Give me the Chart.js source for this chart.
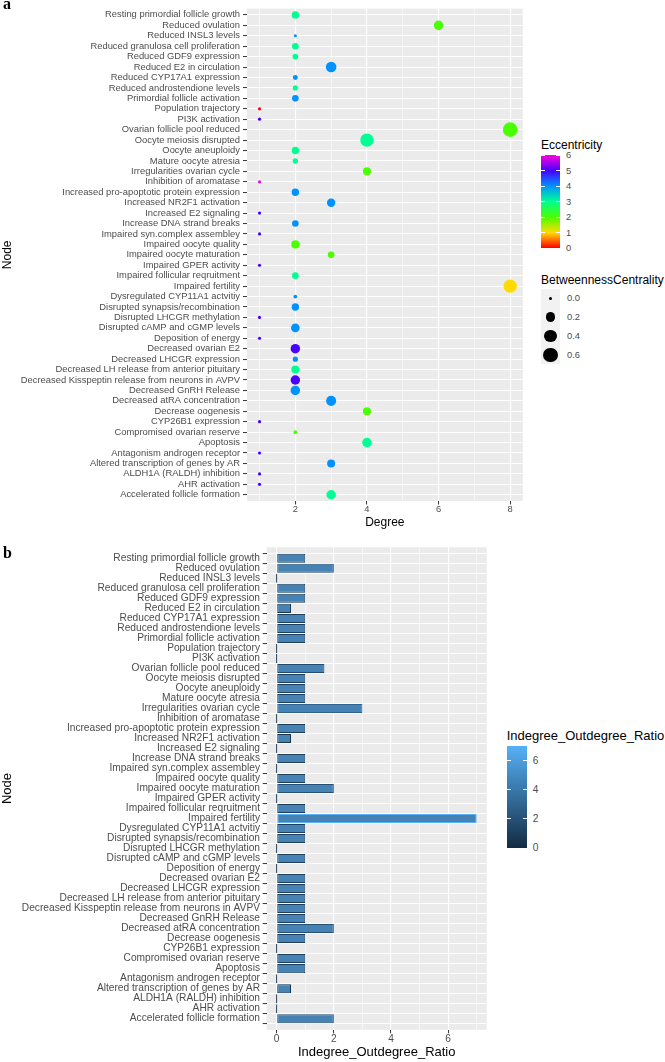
<!DOCTYPE html>
<html>
<head>
<meta charset="utf-8">
<script src="https://cdn.jsdelivr.net/npm/chart.js@4.4.1/dist/chart.umd.min.js"></script>
<style>
  body { margin: 0; background: #fff; width: 665px; height: 1062px; position: relative; overflow: hidden;
         font-family: "Liberation Sans", Arial, sans-serif; }
  canvas { position: absolute; }
  .txt { position: absolute; white-space: nowrap; line-height: 1; transform: translateY(-50%); }
  .tag { position: absolute; font-family: "Liberation Serif", "DejaVu Serif", serif; font-weight: bold; font-size: 16px; line-height: 1; }
  .box { position: absolute; }
</style>
</head>
<body>
<canvas id="chartA" width="530" height="530" style="left:0;top:0"></canvas>
<canvas id="chartB" width="490" height="532" style="left:0;top:530px"></canvas>
<div class="tag" style="left:3px;top:-4px">a</div>
<div class="tag" style="left:3px;top:545px">b</div>
<div id="legends"></div>
<script>
// node names, top to bottom as in the figure
const nodes = [
  'Resting primordial follicle growth', 'Reduced ovulation', 'Reduced INSL3 levels',
  'Reduced granulosa cell proliferation', 'Reduced GDF9 expression', 'Reduced E2 in circulation',
  'Reduced CYP17A1 expression', 'Reduced androstendione levels', 'Primordial follicle activation',
  'Population trajectory', 'PI3K activation', 'Ovarian follicle pool reduced',
  'Oocyte meiosis disrupted', 'Oocyte aneuploidy', 'Mature oocyte atresia',
  'Irregularities ovarian cycle', 'Inhibition of aromatase', 'Increased pro-apoptotic protein expression',
  'Increased NR2F1 activation', 'Increased E2 signaling', 'Increase DNA strand breaks',
  'Impaired syn.complex assembley', 'Impaired oocyte quality', 'Impaired oocyte maturation',
  'Impaired GPER activity', 'Impaired follicular reqruitment', 'Impaired fertility',
  'Dysregulated CYP11A1 actvitiy', 'Disrupted synapsis/recombination', 'Disrupted LHCGR methylation',
  'Disrupted cAMP and cGMP levels', 'Deposition of energy', 'Decreased ovarian E2',
  'Decreased LHCGR expression', 'Decreased LH release from anterior pituitary',
  'Decreased Kisspeptin release from neurons in AVPV', 'Decreased GnRH Release',
  'Decreased atRA concentration', 'Decrease oogenesis', 'CYP26B1 expression',
  'Compromised ovarian reserve', 'Apoptosis', 'Antagonism androgen receptor',
  'Altered transcription of genes by AR', 'ALDH1A (RALDH) inhibition', 'AHR activation',
  'Accelerated follicle formation'
];

const degree = [2, 6, 2, 2, 2, 3, 2, 2, 2, 1, 1, 8, 4, 2, 2, 4, 1, 2, 3, 1, 2, 1, 2, 3,
  1, 2, 8, 2, 2, 1, 2, 1, 2, 2, 2, 2, 2, 3, 4, 1, 2, 4, 1, 3, 1, 1, 3];

const eccentricity = [3, 2, 4, 3, 3, 4, 4, 3, 4, 0, 5, 2, 3, 3, 3, 2, 6, 4, 4, 5, 4, 5, 2, 2,
  5, 3, 1, 4, 4, 5, 4, 5, 5, 4, 3, 5, 4, 4, 2, 5, 2, 3, 5, 4, 5, 5, 3];

const betweenness = [0.09, 0.2, 0, 0.06, 0.03, 0.28, 0.015, 0.02, 0.06, 0, 0, 0.66, 0.53, 0.09,
  0.025, 0.12, 0, 0.09, 0.14, 0, 0.06, 0, 0.12, 0.06, 0, 0.06, 0.53, 0.002, 0.09, 0, 0.15, 0,
  0.2, 0.02, 0.12, 0.2, 0.2, 0.24, 0.12, 0, 0.002, 0.2, 0, 0.12, 0, 0, 0.2];

const ratio = [1, 2, 0, 1, 1, 0.5, 1, 1, 1, 0, 0, 1.67, 1, 1, 1, 3, 0, 1, 0.5, 0, 1, 0, 1, 2,
  0, 1, 7, 1, 1, 0, 1, 0, 1, 1, 1, 1, 1, 2, 1, 0, 1, 1, 0, 0.5, 0, 0, 2];

// tick labels
const degreeTicks = [2, 4, 6, 8];
const ratioTicks = [0, 2, 4, 6];
const eccLegendTicks = [0, 1, 2, 3, 4, 5, 6];
const bcLegendTicks = [0.0, 0.2, 0.4, 0.6];
const ratioLegendTicks = [0, 2, 4, 6];

const FONT = 'Liberation Sans';
const GREY = '#4D4D4D';

// colour / size scales
function hsv(h) {
  const f = (n) => {
    const k = (n + h / 60) % 6;
    return 255 * (1 - Math.max(0, Math.min(k, 4 - k, 1)));
  };
  return `rgb(${Math.round(f(5))},${Math.round(f(3))},${Math.round(f(1))})`;
}
const eccColour = (e) => hsv(e / 7 * 360);
const sizeScale = (b) => 1.6 + 7 * Math.sqrt(b);

function ratioColour(v) {
  const lo = [19, 43, 67], hi = [86, 177, 247];
  const t = v / 7;
  const c = lo.map((l, i) => Math.round(l + (hi[i] - l) * t));
  return `rgb(${c[0]},${c[1]},${c[2]})`;
}

// grey panel behind the grid
const panelBackground = {
  id: 'panelBackground',
  beforeDraw(chart) {
    const { ctx, chartArea: a } = chart;
    ctx.save();
    ctx.fillStyle = '#EBEBEB';
    ctx.fillRect(a.left, a.top, a.right - a.left, a.bottom - a.top);
    ctx.restore();
  }
};

function intRange(a, b) {
  const out = [];
  for (let v = a; v <= b; v++) out.push(v);
  return out;
}

function nodeAxis(width, fontSize, pad, titleSize, titlePad) {
  return {
    type: 'linear',
    reverse: true,
    min: -0.6,
    max: nodes.length - 0.4,
    afterBuildTicks: (s) => { s.ticks = nodes.map((n, i) => ({ value: i })); },
    afterFit: (s) => { s.width = width; },
    border: { display: false },
    grid: { color: '#FFFFFF', lineWidth: 1.1, tickColor: '#333333', tickLength: 4, tickWidth: 1 },
    ticks: { autoSkip: false, callback: (v) => nodes[v], color: GREY, padding: pad,
             font: { family: FONT, size: fontSize } },
    title: { display: true, text: 'Node', color: '#000', padding: { top: titlePad, bottom: 0 },
             font: { family: FONT, size: titleSize } }
  };
}

function valueAxis(min, max, from, to, labels, height, title, bottomPad, fontSize, titleSize) {
  const major = (c) => c.tick && labels.includes(c.tick.value);
  return {
    type: 'linear',
    min: min,
    max: max,
    afterBuildTicks: (s) => { s.ticks = intRange(from, to).map((v) => ({ value: v })); },
    afterFit: (s) => { s.height = height; },
    border: { display: false },
    grid: {
      color: '#FFFFFF',
      lineWidth: (c) => major(c) ? 1.1 : 0.55,
      tickColor: (c) => major(c) ? '#333333' : 'rgba(0,0,0,0)',
      tickLength: 3.5,
      tickWidth: 1
    },
    ticks: { autoSkip: false, maxRotation: 0, padding: -0.5, color: GREY,
             callback: (v) => labels.includes(v) ? String(v) : '',
             font: { family: FONT, size: fontSize } },
    title: { display: true, text: title, color: '#000', padding: { top: 0, bottom: bottomPad },
             font: { family: FONT, size: titleSize } }
  };
}

// a: Degree dot plot
new Chart(document.getElementById('chartA'), {
  type: 'bubble',
  data: {
    datasets: [{
      data: nodes.map((n, i) => ({ x: degree[i], y: i, r: sizeScale(betweenness[i]) })),
      backgroundColor: eccentricity.map(eccColour),
      borderWidth: 0,
      hoverRadius: 0
    }]
  },
  options: {
    responsive: false,
    animation: false,
    events: [],
    layout: { padding: { top: 1.6, right: 7, left: 0, bottom: 0 } },
    plugins: { legend: { display: false }, tooltip: { enabled: false } },
    scales: {
      x: valueAxis(0.65, 8.35, 1, 8, degreeTicks, 29, 'Degree', 0, 9.4, 12),
      y: nodeAxis(247, 9.4, 3, 12, 0.5)
    }
  },
  plugins: [panelBackground]
});

// b: Indegree / Outdegree ratio bars
new Chart(document.getElementById('chartB'), {
  type: 'bar',
  data: {
    datasets: [{
      data: nodes.map((n, i) => ({ x: ratio[i], y: i })),
      backgroundColor: '#4682B4',
      borderColor: ratio.map(ratioColour),
      borderWidth: 1,
      borderSkipped: false,
      minBarLength: 1.2,
      categoryPercentage: 0.9,
      barPercentage: 1
    }]
  },
  options: {
    indexAxis: 'y',
    responsive: false,
    animation: false,
    events: [],
    layout: { padding: { top: 17.2, right: 3.3, left: 0, bottom: 0 } },
    plugins: { legend: { display: false }, tooltip: { enabled: false } },
    scales: {
      x: valueAxis(-0.35, 7.35, 0, 7, ratioTicks, 32.2, 'Indegree_Outdegree_Ratio', 1.5, 10.2, 13),
      y: nodeAxis(266.7, 10.2, 2.7, 13, 0)
    }
  },
  plugins: [panelBackground]
});

// legends (html)
const legendRoot = document.getElementById('legends');
function add(cls, css, text) {
  const d = document.createElement('div');
  d.className = cls;
  d.style.cssText = css;
  if (text !== undefined) d.textContent = text;
  legendRoot.appendChild(d);
  return d;
}

function colourBar(left, top, w, h, stops, ticks, lo, hi, title, titleY, titleSize, labelSize) {
  add('txt', `left:${left}px;top:${titleY}px;font-size:${titleSize}px;color:#000`, title);
  add('box', `left:${left}px;top:${top}px;width:${w}px;height:${h}px;background:linear-gradient(to top,${stops})`);
  ticks.forEach((t) => {
    const y = top + h - (t - lo) / (hi - lo) * h;
    add('box', `left:${left}px;top:${y - 0.5}px;width:${w / 5}px;height:1px;background:#fff`);
    add('box', `left:${left + w - w / 5}px;top:${y - 0.5}px;width:${w / 5}px;height:1px;background:#fff`);
    add('txt', `left:${left + w + 6}px;top:${y}px;font-size:${labelSize}px;color:${GREY}`, String(t));
  });
}

colourBar(541, 155, 19, 93,
  eccLegendTicks.map((e) => `${eccColour(e)} ${e / 6 * 100}%`).join(','),
  eccLegendTicks, 0, 6, 'Eccentricity', 145, 12, 9.4);

add('txt', `left:541px;top:279.5px;font-size:12px;color:#000`, 'BetweennessCentrality');
bcLegendTicks.forEach((b, k) => {
  const top = 289 + k * 18.8;
  const r = sizeScale(b);
  add('box', `left:541px;top:${top}px;width:19px;height:18.8px;background:#F2F2F2`);
  add('box', `left:${550.5 - r}px;top:${top + 9.4 - r}px;width:${2 * r}px;height:${2 * r}px;border-radius:50%;background:#000`);
  add('txt', `left:567px;top:${top + 9.4}px;font-size:9.4px;color:${GREY}`, b.toFixed(1));
});

colourBar(506.7, 746, 20, 102,
  `${ratioColour(0)} 0%,${ratioColour(7)} 100%`,
  ratioLegendTicks, 0, 7, 'Indegree_Outdegree_Ratio', 735, 13, 10.2);
</script>
</body>
</html>
